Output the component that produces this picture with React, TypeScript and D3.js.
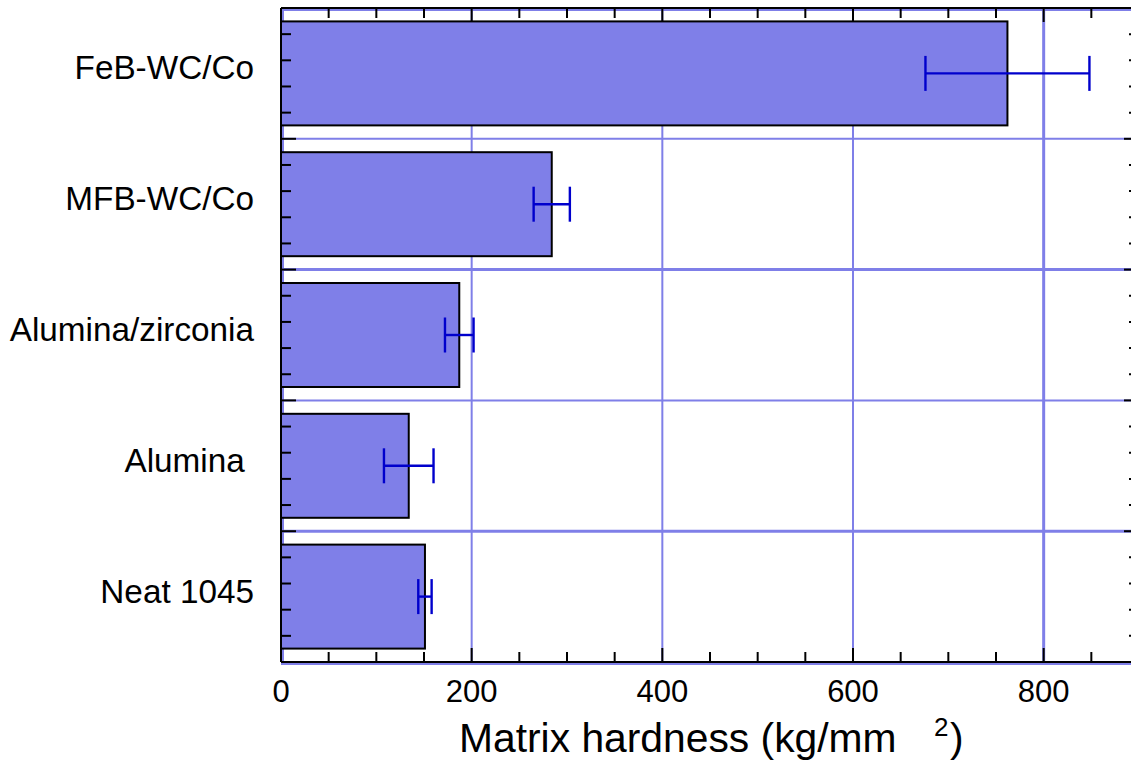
import React from "react";
import * as d3 from "d3";

const categories = ["FeB-WC/Co", "MFB-WC/Co", "Alumina/zirconia", "Alumina ", "Neat 1045"];
const hardness = [762, 284, 187, 134, 151];
const errors = [86, 19, 15, 26, 7];
const xTicks = [0, 200, 400, 600, 800];

const W = 1131;
const H = 762;
const left = 281;
const right = 1139;
const top = 8;
const bottom = 662;

const FILL = "#7f7fe8";
const GRID = "#7f7fe8";
const ERR = "#0000cc";
const FONT = "'Liberation Sans', Arial, Helvetica, sans-serif";

export default function App() {
  const x = d3.scaleLinear().domain([0, 900]).range([left, right]);
  const yIdx = d3.scaleLinear().domain([0, categories.length]).range([top, bottom]);
  const band = d3.scaleBand<string>().domain(categories).range([top, bottom]).paddingInner(0).paddingOuter(0);
  const bw = band.bandwidth();
  const barH = bw * 0.795;

  const minorX = d3.range(0, 901, 50);
  const minorY = d3.range(0, categories.length + 0.001, 0.2).map((v) => Math.round(v * 10) / 10);
  const isMajorY = (v: number) => Math.abs(v - Math.round(v)) < 1e-6;

  return (
    <svg width={W} height={H} style={{ position: "absolute", left: 0, top: 0, display: "block" }} fontFamily={FONT}>
      <rect x={0} y={0} width={W} height={H} fill="#fff" />
      {/* gridlines */}
      {[0, ...xTicks, 900].map((v) => (
        <line key={"gx" + v} x1={x(v) + (v === 0 ? 2 : 0)} x2={x(v) + (v === 0 ? 2 : 0)} y1={top} y2={bottom} stroke={GRID} strokeWidth={v === 800 ? 3 : 2} />
      ))}
      {d3.range(0, categories.length + 1).map((i) => (
        <line key={"gy" + i} x1={left} x2={right} y1={yIdx(i) + (i === 0 ? 2 : i === categories.length ? 2 : 0)} y2={yIdx(i) + (i === 0 ? 2 : i === categories.length ? 2 : 0)} stroke={GRID} strokeWidth={i === 2 || i === 4 ? 3 : 2} />
      ))}
      {/* bars */}
      {categories.map((c, i) => {
        const cy = band(c)! + bw / 2;
        return (
          <rect key={"b" + i} x={x(0)} y={cy - barH / 2} width={x(hardness[i]) - x(0)} height={barH} fill={FILL} stroke="#000" strokeWidth={2} />
        );
      })}
      {/* error bars */}
      {categories.map((c, i) => {
        const cy = band(c)! + bw / 2;
        const x1 = x(hardness[i] - errors[i]);
        const x2 = x(hardness[i] + errors[i]);
        return (
          <g key={"e" + i} stroke={ERR} strokeWidth={2.4}>
            <line x1={x1} x2={x2} y1={cy} y2={cy} />
            <line x1={x1} x2={x1} y1={cy - 17.5} y2={cy + 17.5} />
            <line x1={x2} x2={x2} y1={cy - 17.5} y2={cy + 17.5} />
          </g>
        );
      })}
      {/* axes frame */}
      <g stroke="#000" strokeWidth={2}>
        <line x1={left} x2={right} y1={top} y2={top} />
        <line x1={left} x2={right} y1={bottom} y2={bottom} />
        <line x1={left} x2={left} y1={top} y2={bottom} />
        <line x1={right} x2={right} y1={top} y2={bottom} />
        {minorX.map((v) => {
          const len = v % 200 === 0 ? 14 : 10;
          return (
            <g key={"tx" + v}>
              <line x1={x(v)} x2={x(v)} y1={top} y2={top + len} />
              <line x1={x(v)} x2={x(v)} y1={bottom} y2={bottom - len} />
            </g>
          );
        })}
        {minorY.map((v) => {
          const len = isMajorY(v) ? 15 : 10;
          return (
            <g key={"ty" + v}>
              <line x1={left} x2={left + len} y1={yIdx(v)} y2={yIdx(v)} />
              <line x1={right} x2={right - len} y1={yIdx(v)} y2={yIdx(v)} />
            </g>
          );
        })}
      </g>
      {/* x tick labels */}
      {xTicks.map((v) => (
        <text key={"xl" + v} x={x(v)} y={702} textAnchor="middle" fontSize={31} fill="#000">
          {v}
        </text>
      ))}
      {/* category labels */}
      {categories.map((c, i) => (
        <text key={"cl" + i} x={254} y={band(c)! + bw / 2 + 6} textAnchor="end" fontSize={33.3} fill="#000" style={{ whiteSpace: "pre" }}>
          {c}
        </text>
      ))}
      {/* axis title */}
      <text y={752} fontSize={40.8} fill="#000">
        <tspan x={459}>Matrix hardness (kg/mm</tspan>
        <tspan x={934} y={736} fontSize={26}>2</tspan>
        <tspan x={950} y={752}>)</tspan>
      </text>
    </svg>
  );
}
